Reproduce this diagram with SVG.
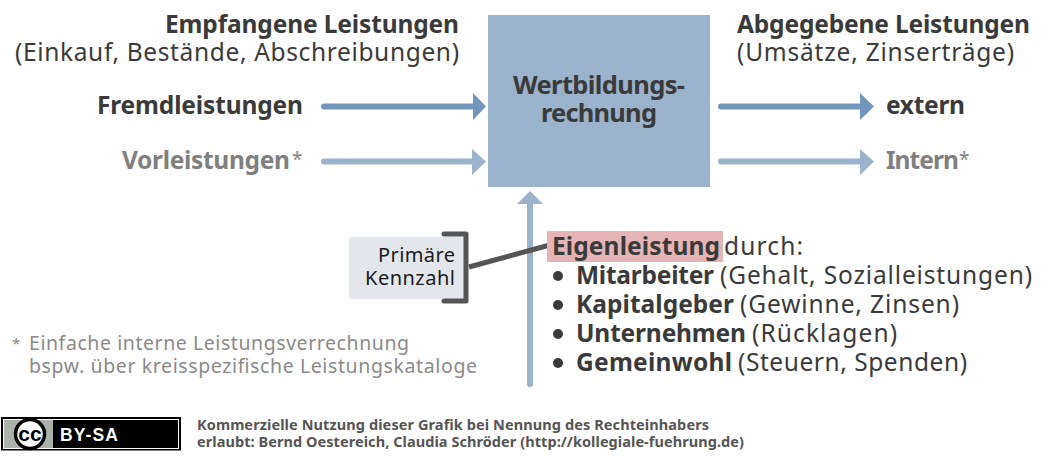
<svg xmlns="http://www.w3.org/2000/svg" width="1052" height="460" viewBox="0 0 1052 460">
<style>
text{font-family:"Noto Sans","Open Sans","Liberation Sans",sans-serif;fill:#3a3a3a}
.b{font-weight:700}
.h{font-size:24.500px}
.g{fill:#7f7f7f}
.s{fill:#8a8a8a;font-size:19.500px}
.l{font-size:24.500px}
.f{font-size:14.500px;font-weight:700;fill:#555}
.a1{stroke:#7295ba;stroke-width:6;stroke-linecap:round;fill:none}
.a2{stroke:#9bb3cd;stroke-width:6;stroke-linecap:round;fill:none}
</style>
<g id="connectors">
<path class="a1" d="M324 106.500H475"/><path d="M473 93L486 106.500L473 120Z" fill="#7295ba"/>
<path class="a2" d="M324 161.500H475"/><path d="M472 149L486 161.500L472 175Z" fill="#9bb3cd"/>
<path class="a1" d="M721 106.500H862"/><path d="M860 93L874 106.500L860 120Z" fill="#7295ba"/>
<path class="a2" d="M721 161.500H862"/><path d="M860 149L874 161.500L860 175Z" fill="#9bb3cd"/>
<path class="a2" d="M530 384V202"/><path d="M517 204L530 191L543 204Z" fill="#9bb3cd"/>
</g>
<g id="wertbildung"><rect x="488" y="15" width="222" height="172" fill="#9bb3cd"/>
<text class="b" x="599" y="94" text-anchor="middle" font-size="25.500" textLength="172">Wertbildungs-</text>
<text class="b" x="599" y="122" text-anchor="middle" font-size="25.500" textLength="116">rechnung</text></g>
<g id="empfangen"><text class="b h" x="459" y="33" text-anchor="end" textLength="294">Empfangene Leistungen</text>
<text class="h" x="459" y="61" text-anchor="end" textLength="444">(Einkauf, Bestände, Abschreibungen)</text></g>
<g id="abgegeben"><text class="b h" x="737" y="33" textLength="293">Abgegebene Leistungen</text>
<text class="h" x="737" y="61" textLength="277">(Umsätze, Zinserträge)</text></g>
<g id="fremd"><text class="b h" x="303" y="114" text-anchor="end" textLength="206">Fremdleistungen</text></g>
<g id="vor"><text class="b h g" x="122" y="169" textLength="168">Vorleistungen</text><text class="g" x="292" y="166" font-size="19">*</text></g>
<g id="extern"><text class="b h" x="886" y="114" textLength="79">extern</text></g>
<g id="intern"><text class="b h g" x="886" y="169" textLength="73">Intern</text><text class="g" x="959" y="166" font-size="19">*</text></g>
<g id="kennzahl"><rect x="349" y="237" width="117" height="62" fill="#e3e7ec"/>
<path d="M444 234H466V301H444" fill="none" stroke="#555" stroke-width="5" stroke-linejoin="round" stroke-linecap="round"/>
<path d="M469 267L548 245.500" fill="none" stroke="#555" stroke-width="5"/>
<text x="455" y="262" text-anchor="end" font-size="20" style="fill:#1a1a1a" textLength="77">Primäre</text>
<text x="455" y="285" text-anchor="end" font-size="20" style="fill:#1a1a1a" textLength="90">Kennzahl</text></g>
<g id="eigen"><rect x="547" y="231" width="176" height="31" fill="#e5b5b5"/>
<text class="b l" x="552" y="255" textLength="168">Eigenleistung</text><text class="l" x="724" y="255" textLength="79">durch:</text>
<circle cx="558" cy="276" r="5" fill="#3a3a3a"/><circle cx="558" cy="305" r="5" fill="#3a3a3a"/><circle cx="558" cy="334" r="5" fill="#3a3a3a"/><circle cx="558" cy="363" r="5" fill="#3a3a3a"/>
<text class="b l" x="576" y="284" textLength="138">Mitarbeiter</text><text class="l" x="720" y="284" textLength="312">(Gehalt, Sozialleistungen)</text>
<text class="b l" x="576" y="313" textLength="158">Kapitalgeber</text><text class="l" x="740" y="313" textLength="219">(Gewinne, Zinsen)</text>
<text class="b l" x="576" y="342" textLength="170">Unternehmen</text><text class="l" x="752" y="342" textLength="145">(Rücklagen)</text>
<text class="b l" x="576" y="371" textLength="156">Gemeinwohl</text><text class="l" x="738" y="371" textLength="229">(Steuern, Spenden)</text></g>
<g id="fussnote"><text class="s" x="12" y="349" style="font-size:15px">*</text>
<text class="s" x="29" y="350" textLength="380">Einfache interne Leistungsverrechnung</text>
<text class="s" x="29" y="373" textLength="448">bspw. über kreisspezifische Leistungskataloge</text></g>
<g id="lizenz"><rect x="1" y="417" width="180" height="33.500" fill="#000"/>
<rect x="3.500" y="419.500" width="175" height="29" fill="none" stroke="#fff" stroke-width="1"/>
<path d="M4 420H53V448H4Z" fill="#aab2ab"/>
<circle cx="30" cy="434" r="14.500" fill="#fff" stroke="#000" stroke-width="3.500"/>
<text x="30" y="440.500" text-anchor="middle" font-size="21" class="b" style="fill:#000;font-family:'Liberation Sans',sans-serif">cc</text>
<text x="60" y="441" font-size="17.500" class="b" style="fill:#fff;font-family:'Liberation Sans',sans-serif" textLength="58">BY-SA</text>
<text class="f" x="197" y="430" textLength="512">Kommerzielle Nutzung dieser Grafik bei Nennung des Rechteinhabers</text>
<text class="f" x="197" y="447" textLength="547">erlaubt: Bernd Oestereich, Claudia Schröder (http://kollegiale-fuehrung.de)</text></g>
</svg>
